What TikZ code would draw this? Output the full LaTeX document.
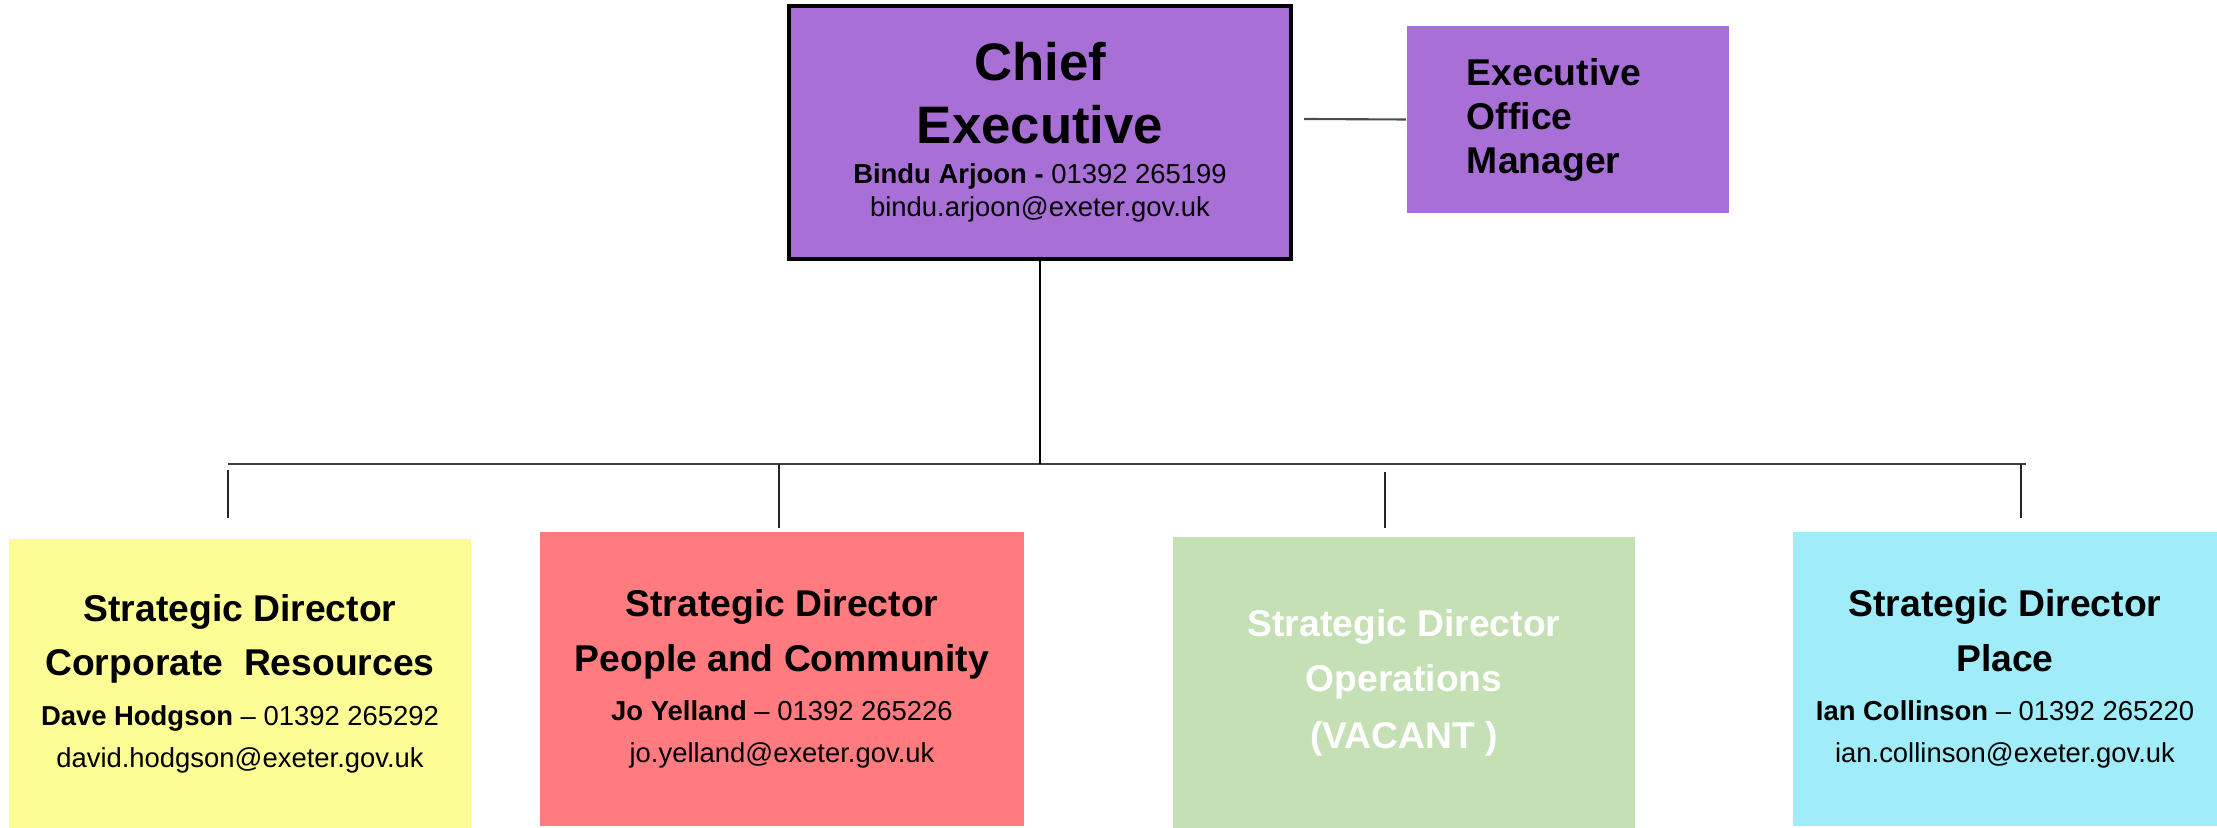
\documentclass[tikz,border=0pt]{standalone}
\usepackage{fontspec}
\setmainfont{Liberation Sans}
\definecolor{chiefPurple}{HTML}{A86FD6}
\definecolor{corpYellow}{HTML}{FDFD96}
\definecolor{peopleRed}{HTML}{FF7B7F}
\definecolor{opsGreen}{HTML}{C5E0B5}
\definecolor{placeCyan}{HTML}{A0ECF8}
\newcommand{\nameFont}{\fontsize{7.8}{9}\selectfont}
\begin{document}
\begin{tikzpicture}
[x=0.01cm,y=-0.01cm,
  boxDecorate/.style={shape=rectangle,inner sep=0pt,align=center,%
    font=\fontsize{10.6}{15.6}\selectfont\bfseries},%
  lineDecorate/.style={-,line width=0.5pt,color=black!85}]
\useasboundingbox (0,0) rectangle (2217,828);
%% boxes
\node (chief) at (1040,132.5) [boxDecorate,draw=black,line width=1pt,fill=chiefPurple,
  minimum width=5.02cm,minimum height=2.53cm,font=\fontsize{15}{17.9}\selectfont\bfseries]
  {Chief\\Executive\\[-6.5pt]{\nameFont Bindu Arjoon - \mdseries 01392 265199}\\[-8.5pt]%
   {\nameFont\mdseries bindu.arjoon@exeter.gov.uk}};
\node (eom) at (1568,119.5) [boxDecorate,fill=chiefPurple,minimum height=1.87cm,
  text width=2.02cm,inner xsep=0.6cm,align=left,font=\fontsize{10.6}{12.5}\selectfont\bfseries]
  {Executive\\Office\\Manager};
\node (corp) at (240,683.5) [boxDecorate,fill=corpYellow,minimum width=4.62cm,minimum height=2.89cm]
  {Strategic Director\\Corporate~~Resources\\[-1.6pt]%
   {\nameFont Dave Hodgson \mdseries -- 01392 265292}\\[-3.6pt]%
   {\nameFont\mdseries david.hodgson@exeter.gov.uk}};
\node (people) at (782,679) [boxDecorate,fill=peopleRed,minimum width=4.84cm,minimum height=2.94cm]
  {Strategic Director\\People and Community\\[-1.6pt]%
   {\nameFont Jo Yelland \mdseries -- 01392 265226}\\[-3.6pt]%
   {\nameFont\mdseries jo.yelland@exeter.gov.uk}};
\node (ops) at (1404,682.5) [boxDecorate,fill=opsGreen,text=white,minimum width=4.62cm,minimum height=2.91cm]
  {Strategic Director\\Operations\\[0.6pt](VACANT\ )};
\node (place) at (2005,679) [boxDecorate,fill=placeCyan,minimum width=4.24cm,minimum height=2.94cm]
  {Strategic Director\\Place\\[-1.6pt]%
   {\nameFont Ian Collinson \mdseries -- 01392 265220}\\[-3.6pt]%
   {\nameFont\mdseries ian.collinson@exeter.gov.uk}};
%% bus and drops
\coordinate (busL) at (228,464);
\coordinate (busR) at (2026,464);
\coordinate (busM) at (1040,464);
\coordinate (link) at (1304,119);
\draw[lineDecorate,line width=0.8pt,color=black!75] (busL) -- (busR);
\draw[lineDecorate,color=black] (chief.south) -- (busM);
\draw[lineDecorate,line width=0.6pt,color=black!70] (link) -- (eom.west);
\foreach \nodename/\x/\ytop/\ybot in {
  corp/228/470/518, people/779/464/528, ops/1385/472/528, place/2021/464/518}
{
  \coordinate (\nodename top) at (\x,\ytop);
  \coordinate (\nodename bot) at (\x,\ybot);
  \draw[lineDecorate] (\nodename top) -- (\nodename bot);
}
\end{tikzpicture}
\end{document}
